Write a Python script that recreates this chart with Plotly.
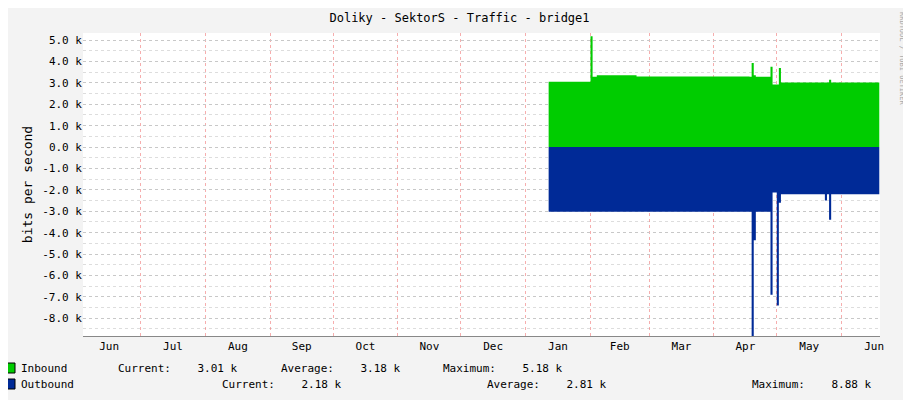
import plotly.graph_objects as go

# inbound steps (k bits/s)
in_dates = ["2014-01-12", "2014-01-31", "2014-02-01", "2014-02-02", "2014-02-04", "2014-02-23",
            "2014-04-18", "2014-04-19", "2014-04-20", "2014-04-21", "2014-04-28", "2014-04-29",
            "2014-05-02", "2014-05-03", "2014-05-26", "2014-05-27", "2014-06-19"]
in_vals = [3.05, 3.05, 5.18, 3.28, 3.35, 3.30,
           3.28, 3.93, 3.35, 3.28, 3.75, 2.92,
           3.70, 3.02, 3.15, 3.02, 3.02]

# outbound steps (negative, k bits/s)
out_dates = ["2014-01-12", "2014-04-19", "2014-04-20", "2014-04-21", "2014-04-28", "2014-04-29",
             "2014-05-01", "2014-05-02", "2014-05-03", "2014-05-24", "2014-05-25", "2014-05-26",
             "2014-05-27", "2014-06-19"]
out_vals = [-3.02, -8.88, -4.35, -3.02, -6.9, -2.12,
            -7.4, -2.6, -2.2, -2.5, -2.2, -3.4,
            -2.2, -2.2]

y_ticks = [5, 4, 3, 2, 1, 0, -1, -2, -3, -4, -5, -6, -7, -8]
y_labels = ["%.1f k" % v for v in y_ticks]

font = "DejaVu Sans Mono"

fig = go.Figure()
fig.add_trace(go.Scatter(x=in_dates, y=in_vals, mode="lines", line=dict(shape="hv", width=0),
                         fill="tozeroy", fillcolor="#00CC00", hoverinfo="skip"))
fig.add_trace(go.Scatter(x=out_dates, y=out_vals, mode="lines", line=dict(shape="hv", width=0),
                         fill="tozeroy", fillcolor="#002A97", hoverinfo="skip"))

# page body has an 8px margin, so the figure is drawn 8px smaller and offset
fig.update_layout(
    width=903, height=392, showlegend=False,
    paper_bgcolor="#F3F3F3", plot_bgcolor="white",
    margin=dict(l=75, r=31, t=25, b=64),
    font=dict(family=font, size=11, color="black"),
    title=dict(text="Doliky - SektorS - Traffic - bridge1", x=0.5, xanchor="center",
               y=0.985, yanchor="top", font=dict(size=12)),
)
fig.update_xaxes(type="date", range=["2013-06-03 12:00", "2014-06-19 08:00"],
                 dtick="M1", tick0="2013-06-01", ticklabelmode="period", tickformat="%b",
                 showgrid=True, gridcolor="rgba(240,120,120,0.6)", griddash="dot",
                 showline=True, linecolor="#888", ticks="", zeroline=False)
fig.update_yaxes(range=[-8.83, 5.33], tickvals=y_ticks, ticktext=y_labels,
                 showgrid=True, gridcolor="#C8C8C8", griddash="dot", zeroline=False,
                 minor=dict(dtick=0.5, showgrid=True, gridcolor="#DDDDDD", griddash="dot"),
                 title=dict(text="bits per second", standoff=6), ticks="")

# legend rows (positions in reference pixels, plot area starts at 83,33)
def px(x):
    return (x - 83) / 797

def py(y):
    return (336 - y) / 303

fig.add_shape(type="rect", xref="paper", yref="paper", x0=px(5), x1=px(15), y0=py(363), y1=py(373),
              fillcolor="#00CC00", line=dict(color="black", width=1))
fig.add_shape(type="rect", xref="paper", yref="paper", x0=px(5), x1=px(15), y0=py(379), y1=py(389),
              fillcolor="#002A97", line=dict(color="black", width=1))
legend_items = [
    (19, 368, "Inbound"), (116, 368, "Current:    3.01 k"), (279, 368, "Average:    3.18 k"),
    (441, 368, "Maximum:    5.18 k"),
    (19, 384, "Outbound"), (220, 384, "Current:    2.18 k"), (485, 384, "Average:    2.81 k"),
    (750, 384, "Maximum:    8.88 k"),
]
for x_, y_, txt in legend_items:
    fig.add_annotation(x=px(x_), y=py(y_), xref="paper", yref="paper",
                       text=txt, showarrow=False, xanchor="left", yanchor="middle",
                       font=dict(size=11, family=font))
fig.add_annotation(x=px(902), y=py(10), xref="paper", yref="paper", text="RRDTOOL / TOBI OETIKER",
                   textangle=90, showarrow=False, xanchor="center", yanchor="top",
                   font=dict(size=7, color="#AAAAAA", family=font))

fig.write_html("out.html")
